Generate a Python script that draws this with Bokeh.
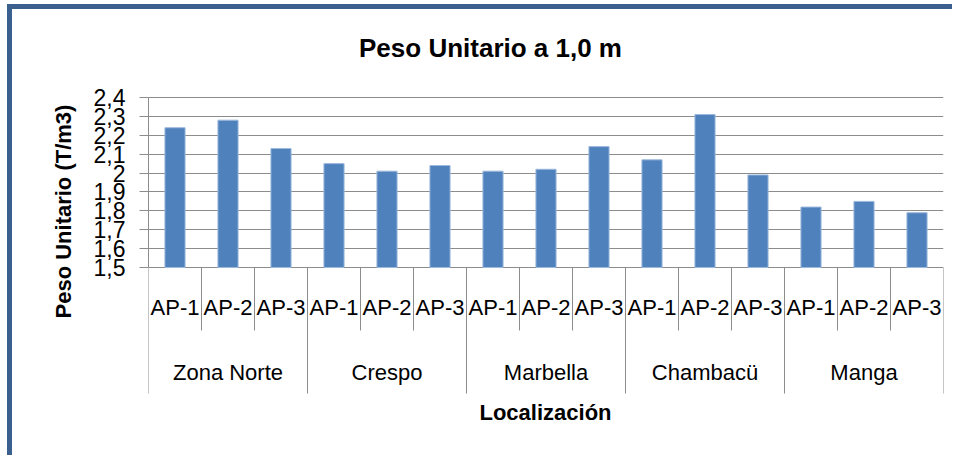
from bokeh.plotting import figure
from bokeh.models import FactorRange, Range1d, FixedTicker, Label, Title
from bokeh.core.properties import value
from bokeh.embed import file_html
from bokeh.resources import INLINE

# ---- data -------------------------------------------------------------
title_text = "Peso Unitario a 1,0 m"
x_title = "Localización"
y_title = "Peso Unitario (T/m3)"
groups = ["Zona Norte", "Crespo", "Marbella", "Chambacü", "Manga"]
subs = ["AP-1", "AP-2", "AP-3"]
peso = [2.24, 2.28, 2.13,
        2.05, 2.01, 2.04,
        2.01, 2.02, 2.14,
        2.07, 2.31, 1.99,
        1.82, 1.85, 1.79]
y_ticks = [1.5, 1.6, 1.7, 1.8, 1.9, 2.0, 2.1, 2.2, 2.3, 2.4]
y_tick_labels = ["1,5", "1,6", "1,7", "1,8", "1,9", "2", "2,1", "2,2", "2,3", "2,4"]

# ---- layout (pixels) --------------------------------------------------
FONT = "Liberation Sans"
TOP_PX = 88          # frame top -> top grid line
GRID_PX = 170        # gridded value area
BOTTOM_PX = 188      # bottom grid line -> frame bottom
TICK_PX = 63         # short category separators
BAND_PX = 126        # long group separators
AP_PX = 40           # sub-category labels below the axis
GROUP_PX = 105       # group labels below the axis
TITLE_PX = 50        # chart title centre above the top grid line
XTITLE_PX = 145      # x title centre below the bottom grid line
BAR_COLOR = "#4F81BD"
GRID_COLOR = "#8C8C8C"
FRAME_H = TOP_PX + GRID_PX + BOTTOM_PX

u = (y_ticks[-1] - y_ticks[0]) / GRID_PX
y_base = y_ticks[0]
y_lo = y_base - BOTTOM_PX * u
y_hi = y_ticks[-1] + TOP_PX * u

factors = [(g, s) for g in groups for s in subs]

p = figure(
    x_range=FactorRange(*factors, factor_padding=0, group_padding=0,
                        subgroup_padding=0, range_padding=0),
    y_range=Range1d(y_lo, y_hi),
    frame_width=795, frame_height=FRAME_H,
    min_border_left=136, min_border_right=9, min_border_top=0, min_border_bottom=0,
    x_axis_location=None, title=None,
    output_backend="svg", toolbar_location=None, tools="",
)
p.styles = {"border-left": "5px solid #3B6090", "border-top": "5px solid #3B6090",
            "margin-top": "4px", "margin-left": "7px"}
p.outline_line_color = None
p.background_fill_color = "white"
p.border_fill_color = "white"

# grid
p.xgrid.visible = False
p.ygrid.ticker = FixedTicker(ticks=y_ticks)
p.ygrid.grid_line_color = GRID_COLOR
p.ygrid.grid_line_width = 1

# y axis
ax = p.yaxis[0]
ax.ticker = FixedTicker(ticks=y_ticks)
ax.major_label_overrides = dict(zip(y_ticks, y_tick_labels))
ax.bounds = (y_ticks[0], y_ticks[-1])
ax.axis_line_color = GRID_COLOR
ax.major_tick_line_color = GRID_COLOR
ax.major_tick_in = 0
ax.major_tick_out = 9
ax.minor_tick_line_color = None
ax.major_label_standoff = 14
ax.major_label_text_font = FONT
ax.major_label_text_font_size = "23px"
ax.major_label_text_color = "black"

# y title
p.add_layout(Title(text=y_title, align="left", offset=BOTTOM_PX - 51, standoff=29,
                   text_font=FONT, text_font_size="22px", text_font_style="bold",
                   text_color="black"), "left")

# bars
p.vbar(x=factors, top=peso, bottom=y_base, width=0.38,
       fill_color=BAR_COLOR, line_color="#9DB9DD", line_width=1)

# category separators
inner_x = [(g, s, -0.5) for g in groups for s in subs[1:]]
group_x = [(g, subs[0], -0.5) for g in groups] + [(groups[-1], subs[-1], 0.5)]
p.segment(x0=inner_x, x1=inner_x, y0=y_base, y1=y_base - TICK_PX * u,
          line_color=GRID_COLOR, line_width=1)
p.segment(x0=group_x, x1=group_x, y0=y_base, y1=y_base - BAND_PX * u,
          line_color=GRID_COLOR, line_width=1)

# category labels
p.text(x=factors, y=[y_base - AP_PX * u] * len(factors),
       text=[s for g in groups for s in subs],
       text_font=value(FONT), text_font_size="22px", text_color="black",
       text_align="center", text_baseline="middle")
mid = subs[len(subs) // 2]
p.text(x=[(g, mid) for g in groups], y=[y_base - GROUP_PX * u] * len(groups),
       text=groups,
       text_font=value(FONT), text_font_size="22px", text_color="black",
       text_align="center", text_baseline="middle")

# chart title and x title (screen units from frame bottom-left)
p.add_layout(Label(x=342, y=BOTTOM_PX + GRID_PX + TITLE_PX, x_units="screen", y_units="screen",
                   text=title_text, text_align="center", text_baseline="middle",
                   text_font=FONT, text_font_size="26px", text_font_style="bold",
                   text_color="black"))
p.add_layout(Label(x=397, y=BOTTOM_PX - XTITLE_PX, x_units="screen", y_units="screen",
                   text=x_title, text_align="center", text_baseline="middle",
                   text_font=FONT, text_font_size="22px", text_font_style="bold",
                   text_color="black"))

open("out.html", "w").write(file_html(p, INLINE))
